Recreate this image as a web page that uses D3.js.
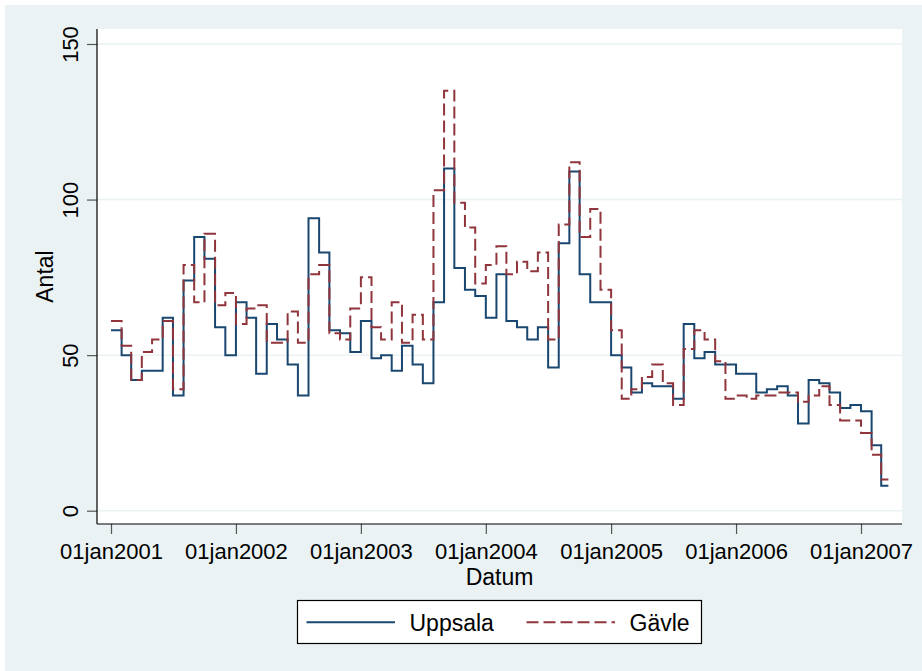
<!DOCTYPE html>
<html>
<head>
<meta charset="utf-8">
<script src="https://cdn.jsdelivr.net/npm/d3@7/dist/d3.min.js"></script>
<style>
    body { margin: 0; background: #fff; }
    text { font-family: "Liberation Sans", Arial, sans-serif; fill: #000; }
</style>
</head>
<body>
<svg id="chart" width="922" height="671"></svg>
<script>
//data: monthly counts, jan 2001 - mar 2007
var startMonth = '2001-01-01';
var endDate = '2007-03-22'; //last step runs to here
var uppsala = [
    58, 50, 42, 45, 45, 62, 37, 74, 88, 81, 59, 50,
    67, 62, 44, 60, 55, 47, 37, 94, 83, 58, 57, 51,
    61, 49, 50, 45, 53, 47, 41, 67, 110, 78, 71, 69,
    62, 76, 61, 59, 55, 59, 46, 86, 109, 76, 67, 67,
    50, 46, 38, 41, 40, 40, 36, 60, 49, 51, 47, 47,
    44, 44, 38, 39, 40, 37, 28, 42, 41, 38, 33, 34,
    32, 21, 8
];
var gavle = [
    61, 53, 42, 51, 55, 61, 39, 79, 67, 89, 66, 70,
    60, 65, 66, 54, 54, 64, 54, 76, 79, 57, 55, 65,
    75, 59, 55, 67, 54, 63, 55, 103, 135, 99, 91, 73,
    79, 85, 76, 80, 77, 83, 55, 92, 112, 88, 97, 71,
    58, 36, 39, 43, 47, 41, 34, 52, 58, 55, 48, 36,
    37, 36, 37, 37, 38, 38, 35, 37, 40, 34, 29, 29,
    25, 18, 10
];
var xTickYears = [2001, 2002, 2003, 2004, 2005, 2006, 2007];
var yTicks = [0, 50, 100, 150];
var seriesNames = ['Uppsala', 'Gävle'];

//colors (stata s2color)
var C = {
    bg: '#eaf2f3',
    grid: '#eaf2f3',
    series: ['#1a476f', '#90353b']
};

var svg = d3.select('#chart');
var P = { left: 97, right: 902, top: 29, bottom: 524 };
var tickFont = '22px';

svg.append('rect')
    .attr('x', 5).attr('y', 5)
    .attr('width', 917).attr('height', 666)
    .attr('fill', C.bg);
svg.append('rect')
    .attr('x', P.left).attr('y', P.top)
    .attr('width', P.right - P.left).attr('height', P.bottom - P.top)
    .attr('fill', '#fff');

var parse = d3.utcParse('%Y-%m-%d');
var months = d3.utcMonth.range(parse(startMonth),
    d3.utcMonth.offset(parse(startMonth), uppsala.length));

var x = d3.scaleUtc()
    .domain([parse('2001-01-01'), parse('2007-01-01')])
    .range([111, 861]);
var y = d3.scaleLinear()
    .domain([0, 150])
    .range([510.7, 44]);

//gridlines
svg.append('g').selectAll('line')
    .data(yTicks)
    .join('line')
    .attr('x1', P.left).attr('x2', P.right)
    .attr('y1', function (d) { return y(d); })
    .attr('y2', function (d) { return y(d); })
    .attr('stroke', C.grid)
    .attr('stroke-width', 1.5);

//series
var line = d3.line()
    .curve(d3.curveStepAfter)
    .x(function (d) { return x(d.date); })
    .y(function (d) { return y(d.value); });

function toPoints(values) {
    var pts = values.map(function (v, i) {
        return { date: months[i], value: v };
    });
    pts.push({ date: parse(endDate), value: values[values.length - 1] });
    return pts;
}

svg.append('path')
    .attr('d', line(toPoints(uppsala)))
    .attr('fill', 'none')
    .attr('stroke', C.series[0])
    .attr('stroke-width', 2);
svg.append('path')
    .attr('d', line(toPoints(gavle)))
    .attr('fill', 'none')
    .attr('stroke', C.series[1])
    .attr('stroke-width', 2)
    .attr('stroke-dasharray', '12,5');

//y axis
var yAxis = svg.append('g')
    .attr('transform', 'translate(' + P.left + ',0)')
    .call(d3.axisLeft(y).tickValues(yTicks).tickSize(10).tickSizeOuter(0));
yAxis.select('.domain').remove();
yAxis.selectAll('.tick line').attr('stroke', '#555').attr('stroke-width', 1.2);
yAxis.selectAll('.tick text')
    .attr('transform', 'rotate(-90)')
    .attr('x', 0).attr('y', -19).attr('dy', 0)
    .attr('text-anchor', 'middle')
    .style('font-size', tickFont)
    .style('font-family', '"Liberation Sans", Arial, sans-serif');

//x axis
var xAxis = svg.append('g')
    .attr('transform', 'translate(0,' + P.bottom + ')')
    .call(d3.axisBottom(x)
        .tickValues(xTickYears.map(function (yr) { return parse(yr + '-01-01'); }))
        .tickFormat(function (d) { return '01jan' + d.getUTCFullYear(); })
        .tickSize(10).tickSizeOuter(0));
xAxis.select('.domain').remove();
xAxis.selectAll('.tick line').attr('stroke', '#555').attr('stroke-width', 1.2);
xAxis.selectAll('.tick text')
    .attr('y', 35).attr('dy', 0)
    .style('font-size', tickFont)
    .style('font-family', '"Liberation Sans", Arial, sans-serif');

//axis lines
svg.append('line')
    .attr('x1', P.left).attr('x2', P.left)
    .attr('y1', P.top).attr('y2', P.bottom)
    .attr('stroke', '#000').attr('stroke-width', 1.2);
svg.append('line')
    .attr('x1', P.left).attr('x2', P.right)
    .attr('y1', P.bottom).attr('y2', P.bottom)
    .attr('stroke', '#000').attr('stroke-width', 1.2);

//axis titles
svg.append('text')
    .attr('x', (P.left + P.right) / 2).attr('y', 585)
    .attr('text-anchor', 'middle')
    .style('font-size', '23px')
    .text('Datum');
svg.append('text')
    .attr('transform', 'translate(52.5,' + (P.top + P.bottom) / 2 + ') rotate(-90)')
    .attr('text-anchor', 'middle')
    .style('font-size', '23px')
    .text('Antal');

//legend
var lg = svg.append('g');
lg.append('rect')
    .attr('x', 297.5).attr('y', 600.5)
    .attr('width', 404).attr('height', 43)
    .attr('fill', '#fff')
    .attr('stroke', '#000')
    .attr('stroke-width', 1.2);
var legendX = [306.5, 526.5];
seriesNames.forEach(function (name, i) {
    lg.append('line')
        .attr('x1', legendX[i]).attr('x2', legendX[i] + 88.5)
        .attr('y1', 622.3).attr('y2', 622.3)
        .attr('stroke', C.series[i])
        .attr('stroke-width', 2)
        .attr('stroke-dasharray', i === 1 ? '12,5' : null);
    lg.append('text')
        .attr('x', legendX[i] + 103).attr('y', 631)
        .style('font-size', '23px')
        .text(name);
});
</script>
</body>
</html>
